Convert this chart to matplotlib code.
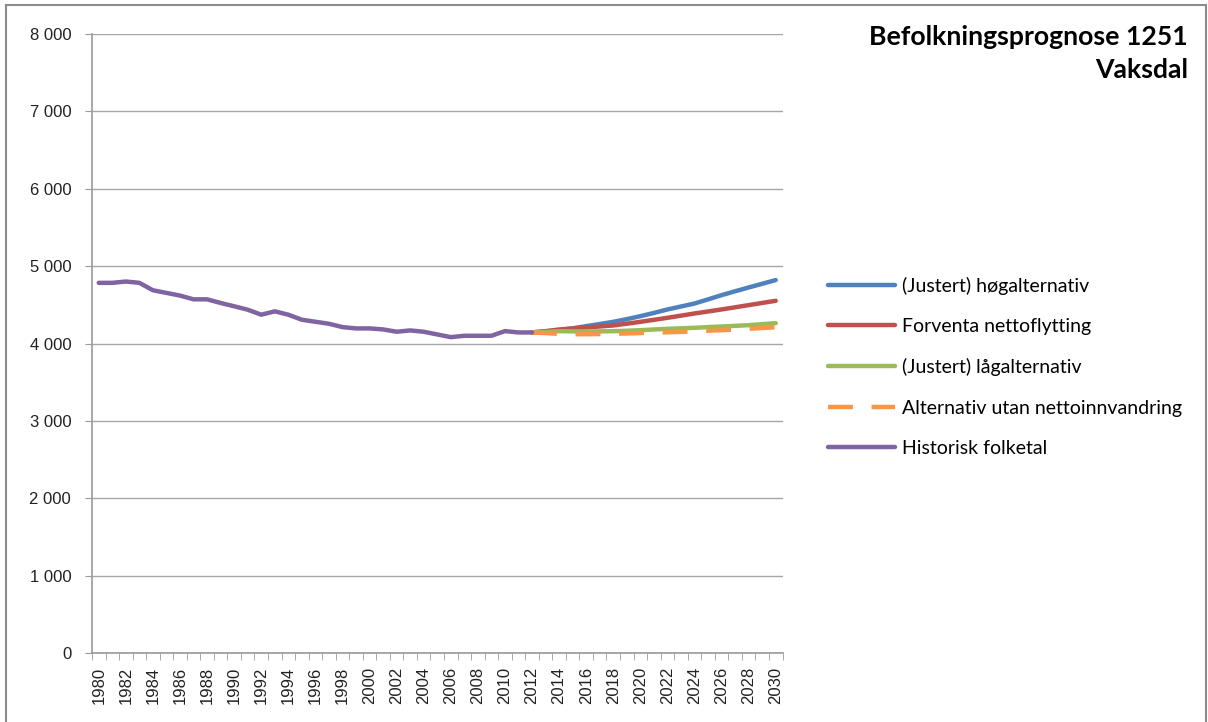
import matplotlib
matplotlib.use('Agg')
import matplotlib.pyplot as plt
from matplotlib.patches import Rectangle

years_hist = list(range(1980, 2013))
hist = [4784, 4784, 4801, 4784, 4688, 4654, 4619, 4571, 4571, 4524,
        4481, 4437, 4372, 4416, 4372, 4307, 4281, 4255, 4212, 4195,
        4195, 4182, 4152, 4169, 4152, 4117, 4082, 4100, 4100, 4100,
        4160, 4143, 4143]

years_proj = list(range(2012, 2031))
hoeg = [4143, 4155, 4172, 4196, 4224, 4252, 4280, 4315, 4353, 4395,
        4440, 4478, 4517, 4570, 4625, 4675, 4724, 4772, 4820]
forventa = [4143, 4160, 4181, 4195, 4207, 4220, 4233, 4256, 4280, 4306,
            4332, 4360, 4388, 4414, 4440, 4468, 4496, 4524, 4552]
laag = [4143, 4150, 4159, 4157, 4155, 4157, 4159, 4165, 4172, 4181,
        4190, 4196, 4203, 4212, 4220, 4228, 4237, 4250, 4263]
utan = [4143, 4135, 4125, 4120, 4120, 4122, 4125, 4130, 4135, 4140,
        4145, 4150, 4157, 4165, 4172, 4180, 4190, 4200, 4210]

labels = ['(Justert) høgalternativ', 'Forventa nettoflytting',
          '(Justert) lågalternativ', 'Alternativ utan nettoinnvandring',
          'Historisk folketal']
colors = ['#4F81BD', '#C0504D', '#9BBB59', '#F79646', '#8064A2']

plt.rcParams['font.family'] = ['Lato', 'DejaVu Sans']

fig = plt.figure(figsize=(12.08, 7.22), dpi=100)
ax = fig.add_axes([92 / 1208, 69 / 722, (782.5 - 92) / 1208, (653 - 34) / 722])

lw = 3.2
ax.plot(years_proj, hoeg, color=colors[0], lw=lw, label=labels[0], solid_capstyle='round')
ax.plot(years_proj, forventa, color=colors[1], lw=lw, label=labels[1], solid_capstyle='round')
ax.plot(years_proj, laag, color=colors[2], lw=lw, label=labels[2], solid_capstyle='round')
ax.plot(years_proj, utan, color=colors[3], lw=lw, label=labels[3], linestyle=(0, (5.6, 4.2)))
ax.plot(years_hist, hist, color=colors[4], lw=lw, label=labels[4], solid_capstyle='round')

ax.set_xlim(1979.5, 2030.5)
ax.set_ylim(0, 8000)
ax.set_yticks(range(0, 8001, 1000))
ax.set_yticklabels([f'{v:,}'.replace(',', ' ') for v in range(0, 8001, 1000)],
                   fontsize=12, family='Liberation Sans', color='#222222')
ax.set_xticks(range(1980, 2031, 2))
ax.set_xticklabels([str(y) for y in range(1980, 2031, 2)], rotation=90,
                   fontsize=12, family='Liberation Sans', color='#222222')
ax.set_xticks([y + 0.5 for y in range(1979, 2031)], minor=True)
ax.tick_params(axis='x', which='major', length=0, pad=10)
ax.tick_params(axis='x', which='minor', length=5, color='#999999')
ax.tick_params(axis='y', length=5, color='#999999', pad=10)

ax.grid(axis='y', color='#a6a6a6', lw=1)
ax.set_axisbelow(True)
for s in ['top', 'right']:
    ax.spines[s].set_visible(False)
for s in ['left', 'bottom']:
    ax.spines[s].set_color('#999999')
    ax.spines[s].set_linewidth(1.2)

fig.text(1188 / 1208, 1 - 37 / 722, 'Befolkningsprognose 1251', ha='right', va='center',
         fontsize=19.2, fontweight='bold')
fig.text(1188 / 1208, 1 - 70 / 722, 'Vaksdal', ha='right', va='center',
         fontsize=19.2, fontweight='bold')

handles, labs = ax.get_legend_handles_labels()
fig.legend(handles, labs, loc='upper left', bbox_to_anchor=(810 / 1208, 1 - 259 / 722),
           frameon=False, fontsize=14, handlelength=3.45, handletextpad=0.4,
           labelspacing=1.2)

fig.add_artist(Rectangle((6 / 1208, -0.01), 1200 / 1208, (717 + 7) / 722,
                         transform=fig.transFigure, fill=False,
                         edgecolor='#8c8c8c', lw=1.5))

fig.savefig('out.png', dpi=100)
